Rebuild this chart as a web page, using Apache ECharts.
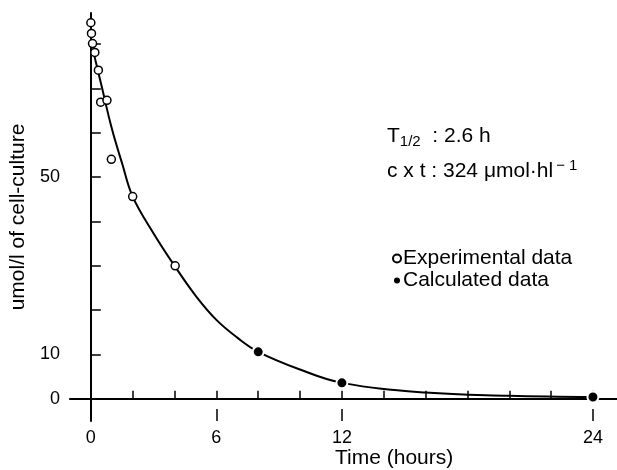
<!DOCTYPE html>
<html lang="en">
    <head>
        <meta charset="utf-8">
        <title>Cell culture elimination</title>
        <script src="https://cdn.jsdelivr.net/npm/echarts@6/dist/echarts.min.js"></script>
        <style>
            html, body { margin: 0; padding: 0; background: #fff; }
            .echarts_main { width: 617px; height: 470px; }
        </style>
    </head>
    <body>
        <div class="echarts_main"></div>

        <script type="text/javascript">
            // open circles, [hours, umol/l]
            let experimentalData = [
                [0, 84.8], [0.03, 82.4], [0.08, 80.1], [0.19, 78.1], [0.36, 74.1],
                [0.47, 66.9], [0.77, 67.3], [0.98, 54.0], [2.0, 45.6], [4.03, 30.0]
            ];
            // filled circles
            let calculatedData = [[8, 10.6], [12, 3.6], [24, 0.4]];
            // fitted curve
            let curveData = [
                [0.16, 77.5], [0.5, 70.8], [1.0, 61.0], [1.5, 53.0], [2.0, 45.6],
                [3.0, 37.3], [4.03, 29.8], [5.05, 23.0], [6, 17.8], [7, 13.8],
                [8, 10.6], [10, 6.6], [12, 3.6], [16, 1.4], [20, 0.7], [24, 0.4]
            ];

            let xMinorTicks = [0, 2, 4, 6, 8, 10, 12, 14, 16, 18, 20, 22, 24];
            let xLabelValues = [0, 6, 12, 24];
            let yTickValues = [0, 10, 20, 30, 40, 50, 60, 70, 80];
            let yLabelValues = [0, 10, 50];

            let fontName = '"Liberation Sans", Arial, Helvetica, sans-serif';

            let Chart = echarts.init(document.getElementsByClassName('echarts_main')[0]);

            let axisLine = { show: true, lineStyle: { color: '#000', width: 2 } };

            let option = {
                animation: false,
                backgroundColor: '#fff',
                grid: { left: 65, top: 13, right: 0, bottom: 49 },
                legend: {
                    data: ['Experimental data', 'Calculated data'],
                    orient: 'vertical',
                    left: 387,
                    top: 243,
                    itemWidth: 8,
                    itemHeight: 8,
                    itemGap: 1,
                    textStyle: { fontFamily: fontName, fontSize: 21, color: '#000', padding: [0, 0, 0, -3] }
                },
                xAxis: [
                    {
                        // short ticks every 2 hours
                        type: 'value',
                        min: -1,
                        max: 25.15,
                        axisLine: axisLine,
                        axisTick: {
                            show: true, inside: true, length: 8,
                            lineStyle: { color: '#000', width: 1.5 },
                            customValues: xMinorTicks
                        },
                        axisLabel: { show: false },
                        splitLine: { show: false }
                    },
                    {
                        type: 'value',
                        min: -1,
                        max: 25.15,
                        position: 'bottom',
                        axisLine: { show: false },
                        axisTick: {
                            show: true, inside: true, length: 12,
                            lineStyle: { color: '#000', width: 1.5 },
                            customValues: xLabelValues
                        },
                        axisLabel: {
                            show: true, margin: 8, fontSize: 18, color: '#000', fontFamily: fontName,
                            customValues: xLabelValues
                        },
                        splitLine: { show: false }
                    }
                ],
                yAxis: {
                    type: 'value',
                    min: -5,
                    max: 87,
                    axisLine: axisLine,
                    axisTick: {
                        show: true, inside: true, length: 10,
                        lineStyle: { color: '#000', width: 1.5 },
                        customValues: yTickValues
                    },
                    axisLabel: {
                        show: true, margin: 10, fontSize: 18, color: '#000', fontFamily: fontName,
                        customValues: yLabelValues
                    },
                    splitLine: { show: false },
                    name: 'umol/l of cell-culture',
                    nameLocation: 'middle',
                    nameRotate: 90,
                    nameGap: 33,
                    nameTextStyle: { fontSize: 21, color: '#000', fontFamily: fontName }
                },
                graphic: [
                    {
                        type: 'text',
                        left: 335,
                        top: 448,
                        style: { text: 'Time (hours)', font: '21px ' + fontName, fill: '#000' }
                    },
                    {
                        type: 'text',
                        left: 387,
                        top: 126,
                        style: {
                            text: '{a|T}{s|1/2}{a|  : 2.6 h}',
                            rich: {
                                a: { fontSize: 21, fontFamily: fontName, fill: '#000' },
                                s: { fontSize: 15, fontFamily: fontName, fill: '#000', padding: [10, 0, 0, 0] }
                            }
                        }
                    },
                    {
                        type: 'text',
                        left: 387,
                        top: 158,
                        style: {
                            text: '{a|c x t : 324 \u03bcmol\u00b7hl}{p|\u2212 1}',
                            rich: {
                                a: { fontSize: 21, fontFamily: fontName, fill: '#000' },
                                p: { fontSize: 15, fontFamily: fontName, fill: '#000', padding: [0, 0, 12, 3] }
                            }
                        }
                    }
                ],
                series: [
                    {
                        name: 'Curve',
                        type: 'line',
                        data: curveData,
                        smooth: 0.4,
                        symbol: 'none',
                        lineStyle: { color: '#000', width: 2 },
                        z: 2
                    },
                    {
                        name: 'Experimental data',
                        type: 'scatter',
                        data: experimentalData,
                        symbol: 'circle',
                        symbolSize: 8,
                        itemStyle: { color: '#fff', borderColor: '#000', borderWidth: 1.5, opacity: 1 },
                        z: 3
                    },
                    {
                        name: 'Calculated data',
                        type: 'scatter',
                        data: calculatedData,
                        symbol: 'circle',
                        symbolSize: 11,
                        itemStyle: { color: '#000', borderColor: '#fff', borderWidth: 2, opacity: 1 },
                        z: 3
                    }
                ]
            };

            Chart.setOption(option);
        </script>
    </body>
</html>
